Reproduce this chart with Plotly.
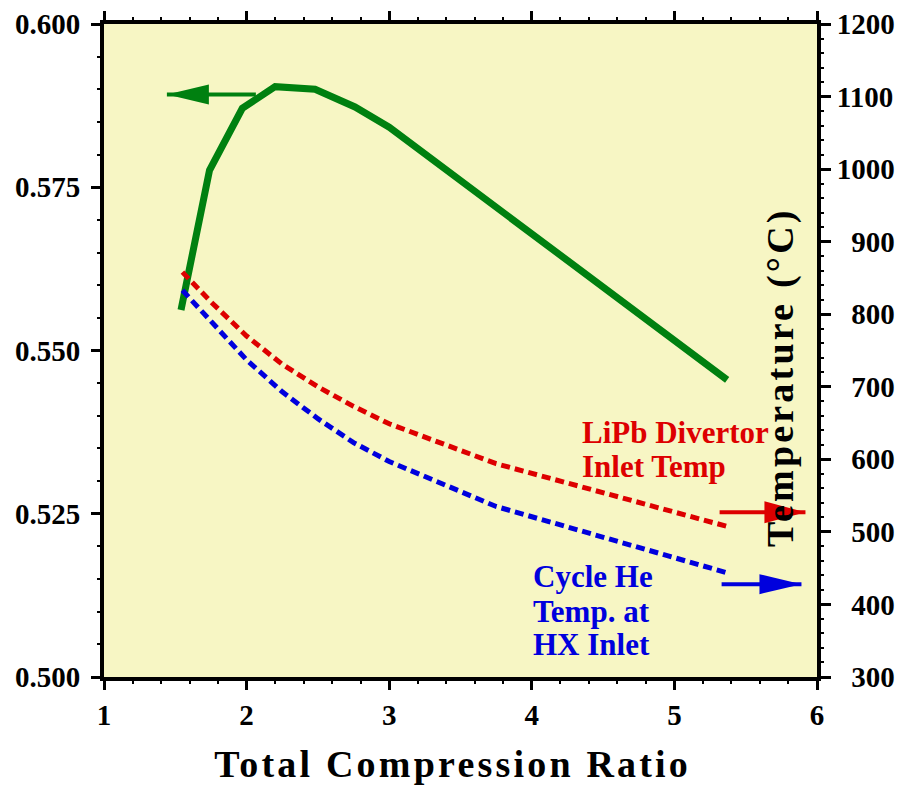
import plotly.graph_objects as go

# ---- data ----
ratio_eff = [1.54, 1.74, 1.97, 2.2, 2.48, 2.76, 3.0, 3.5, 4.0, 4.5, 5.0, 5.37]
efficiency = [0.5562, 0.5776, 0.5871, 0.5904, 0.5900, 0.5873, 0.5842, 0.5761, 0.5679, 0.5597, 0.5515, 0.5455]

ratio_temp = [1.55, 1.75, 2.0, 2.25, 2.5, 2.75, 3.0, 3.75, 5.38]
lipb_temp = [858, 817, 770, 731, 700, 673, 649, 594, 507]
he_temp = [833, 790, 737, 693, 656, 623, 597, 535, 443]

y_left_ticks = [0.500, 0.525, 0.550, 0.575, 0.600]
y_right_ticks = [300, 400, 500, 600, 700, 800, 900, 1000, 1100, 1200]
y_right_labels = [("\u2007" if v < 1000 else "") + str(v) for v in y_right_ticks]

# arrow anchors (x start, x tip, y level)
green_arrow = (2.065, 1.441, 0.5892)
red_arrow = (5.317, 5.919, 527)
blue_arrow = (5.331, 5.891, 428)

GREEN = "#008010"
RED = "#DD0000"
BLUE = "#0000DD"
FONT = "Liberation Serif"

fig = go.Figure()
fig.add_trace(go.Scatter(x=ratio_eff, y=efficiency, mode="lines",
                         line=dict(color=GREEN, width=7), yaxis="y", showlegend=False))
fig.add_trace(go.Scatter(x=ratio_temp, y=lipb_temp, mode="lines",
                         line=dict(color=RED, width=5, dash="9px,5px"), yaxis="y2", showlegend=False))
fig.add_trace(go.Scatter(x=ratio_temp, y=he_temp, mode="lines",
                         line=dict(color=BLUE, width=5, dash="9px,5px"), yaxis="y2", showlegend=False))

tickfont = dict(family=FONT, size=29, color="black", weight="bold")

fig.update_layout(
    width=902, height=786,
    margin=dict(l=104, r=85, t=24, b=109, autoexpand=False),
    paper_bgcolor="white",
    plot_bgcolor="#F7F6C4",
    xaxis=dict(range=[1, 6], tickvals=[1, 2, 3, 4, 5, 6], ticks="outside", ticklen=9, tickwidth=3,
               tickcolor="black", showline=True, linewidth=4, linecolor="black", mirror="ticks",
               showgrid=False, zeroline=False, tickfont=tickfont, ticklabelstandoff=0, automargin=False,
               minor=dict(dtick=0.2, ticks="outside", ticklen=3, tickwidth=2, tickcolor="black", showgrid=False)),
    yaxis=dict(range=[0.5, 0.6], tickvals=y_left_ticks, tickformat=".3f", ticks="outside", ticklen=9,
               tickwidth=3, tickcolor="black", showline=True, linewidth=4, linecolor="black",
               showgrid=False, zeroline=False, tickfont=tickfont, ticklabelstandoff=5, automargin=False,
               minor=dict(dtick=0.005, ticks="outside", ticklen=3, tickwidth=2, tickcolor="black", showgrid=False)),
    yaxis2=dict(range=[300, 1200], overlaying="y", side="right", tickvals=y_right_ticks,
                ticktext=y_right_labels, ticks="outside", ticklen=10, tickwidth=3, tickcolor="black",
                showline=True, linewidth=4, linecolor="black", showgrid=False, zeroline=False,
                tickfont=tickfont, ticklabelstandoff=0, automargin=False,
                minor=dict(dtick=20, ticks="outside", ticklen=3, tickwidth=2, tickcolor="black", showgrid=False)),
)

# arrows: shafts
for (xs, xt, yv), col, yref, w in [(green_arrow, GREEN, "y", 4), (red_arrow, RED, "y2", 4), (blue_arrow, BLUE, "y2", 4)]:
    fig.add_shape(type="line", xref="x", yref=yref, x0=xs, x1=xt, y0=yv, y1=yv,
                  line=dict(color=col, width=w), layer="above")
# arrow heads
fig.add_shape(type="path", xref="x", yref="y", xsizemode="pixel", ysizemode="pixel",
              xanchor=green_arrow[1], yanchor=green_arrow[2], path="M0,0 L42,10 L42,-10 Z",
              fillcolor=GREEN, line=dict(width=0), layer="above")
fig.add_shape(type="path", xref="x", yref="y2", xsizemode="pixel", ysizemode="pixel",
              xanchor=red_arrow[1], yanchor=red_arrow[2], path="M0,0 L-41,11 L-41,-11 Z",
              fillcolor=RED, line=dict(width=0), layer="above")
fig.add_shape(type="path", xref="x", yref="y2", xsizemode="pixel", ysizemode="pixel",
              xanchor=blue_arrow[1], yanchor=blue_arrow[2], path="M0,0 L-42,10 L-42,-10 Z",
              fillcolor=BLUE, line=dict(width=0), layer="above")

def px_x(px):
    return (px - 104) / 713.0

def px_y(py):
    return (677 - py) / 653.0

labels = [
    ("LiPb Divertor", 582, 432.8, RED),
    ("Inlet Temp", 582, 466.2, RED),
    ("Cycle He", 533, 576.5, BLUE),
    ("Temp. at", 533, 611.0, BLUE),
    ("HX Inlet", 533, 644.5, BLUE),
]
for txt, lx, ly, col in labels:
    fig.add_annotation(text=txt, xref="paper", yref="paper", x=px_x(lx - 2), y=px_y(ly),
                       xanchor="left", yanchor="middle", showarrow=False,
                       font=dict(family=FONT, size=31, color=col, weight="bold"))

fig.add_annotation(text="Total Compression Ratio", xref="paper", yref="paper",
                   x=px_x(452), y=px_y(764), xanchor="center", yanchor="middle", showarrow=False,
                   font=dict(family=FONT, size=38, color="black", weight="bold"))
fig.add_annotation(text="Temperature (°C)", xref="paper", yref="paper", textangle=-90,
                   x=px_x(780), y=px_y(377.5), xanchor="center", yanchor="middle", showarrow=False,
                   font=dict(family=FONT, size=38, color="black", weight="bold"))

post = """
document.body.style.margin = '0';
document.body.style.padding = '0';
document.querySelectorAll('text').forEach(function(t){
  if (t.textContent === 'Total Compression Ratio' || t.textContent === 'Temperature (\u00b0C)') {
    t.style.letterSpacing = '3.2px';
  }
});
"""
fig.write_html("out.html", post_script=post, config={"displayModeBar": False})
